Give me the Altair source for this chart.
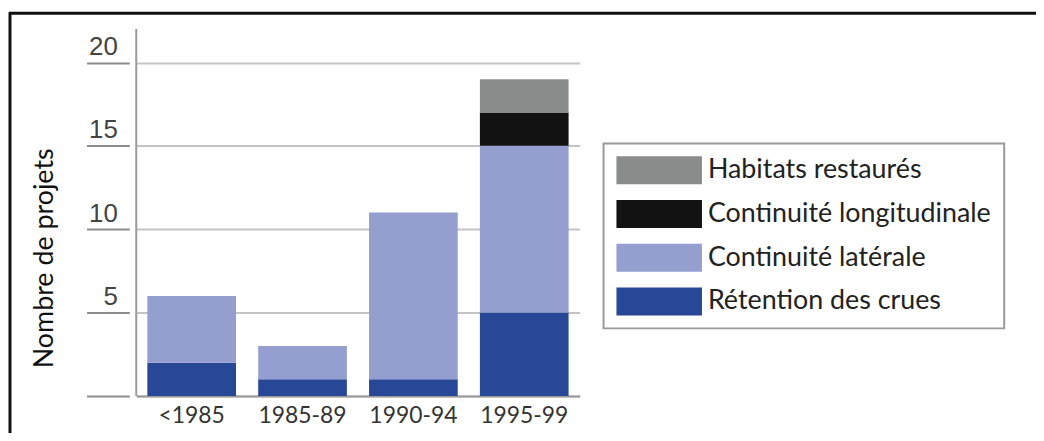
import altair as alt
import pandas as pd

periods = ["<1985", "1985-89", "1990-94", "1995-99"]
retention = [2, 1, 1, 5]
laterale = [4, 2, 10, 10]
longitudinale = [0, 0, 0, 2]
habitats = [0, 0, 0, 2]
series = ["Habitats restaurés", "Continuité longitudinale", "Continuité latérale", "Rétention des crues"]
colors = ["#8a8c8b", "#121212", "#949fd0", "#284797"]
y_ticks = [0, 5, 10, 15, 20]

rows = []
stack_def = [
    ("Rétention des crues", retention, 0),
    ("Continuité latérale", laterale, 1),
    ("Continuité longitudinale", longitudinale, 2),
    ("Habitats restaurés", habitats, 3),
]
for i, p in enumerate(periods):
    for name, vals, order in stack_def:
        if vals[i] > 0:
            rows.append({"period": p, "series": name, "value": vals[i], "order": order})
df = pd.DataFrame(rows)
one = pd.DataFrame({"a": [0]})

W, H = 446, 369

bars = alt.Chart(df).mark_bar().encode(
    x=alt.X(
        "period:N", sort=periods,
        scale=alt.Scale(paddingInner=0.2, paddingOuter=0.1),
        axis=alt.Axis(title=None, domain=True, domainColor="#9a9a9a", domainWidth=2,
                      ticks=False, labelFont="Lato", labelFontSize=23, labelColor="#333333",
                      labelPadding=9, labelAngle=0, grid=False),
    ),
    y=alt.Y(
        "value:Q", stack="zero",
        scale=alt.Scale(domain=[0, 22], nice=False),
        axis=alt.Axis(values=y_ticks, offset=7, domain=False, tickSize=43, tickColor="#8c8c8c",
                      tickWidth=2, grid=True, gridColor="#c4c4c4", gridWidth=2,
                      labelFont="Liberation Sans", labelFontSize=26, labelColor="#444444",
                      labelPadding=-31, labelBaseline="alphabetic", labelOffset=-8,
                      labelOverlap=False, labelBound=False,
                      labelExpr="datum.value == 0 ? '' : datum.label",
                      title="Nombre de projets", titleFont="Lato", titleFontSize=27,
                      titleFontWeight="normal", titleColor="#111111", titleAngle=270,
                      titleX=-85, titleY=230, titleAlign="center", titleBaseline="middle"),
    ),
    color=alt.Color(
        "series:N",
        scale=alt.Scale(domain=series, range=colors),
        legend=alt.Legend(title=None, orient="none", legendX=470, legendY=115, direction="vertical",
                          symbolType="M-1,-1H5.143V1H-1Z", symbolSize=784, symbolStrokeWidth=0,
                          symbolOpacity=1, labelFont="Lato", labelFontSize=27, labelColor="#222222",
                          labelOffset=64, labelLimit=500, rowPadding=16, padding=13,
                          strokeColor="#9a9a9a", fillColor="white"),
    ),
    order=alt.Order("order:Q"),
)

vline = alt.Chart(one).mark_rule(color="#9a9a9a", strokeWidth=2).encode(
    x=alt.value(0), y=alt.value(0), y2=alt.value(H)
)
frame_top = alt.Chart(one).mark_rule(color="#111111", strokeWidth=3).encode(
    x=alt.value(-128), x2=alt.value(1044 - 137 + 10), y=alt.value(-16)
)
frame_left = alt.Chart(one).mark_rule(color="#111111", strokeWidth=3).encode(
    x=alt.value(-127), y=alt.value(-17), y2=alt.value(441 - 28 + 10)
)

chart = alt.layer(bars, vline, frame_top, frame_left).properties(
    width=W, height=H,
    autosize=alt.AutoSizeParams(type="none"),
    padding={"left": 129, "top": 20, "right": 459, "bottom": 36},
).configure_view(stroke=None).configure_legend(strokeWidth=2)

chart.save("out.html", embed_options={"renderer": "svg", "actions": False})
